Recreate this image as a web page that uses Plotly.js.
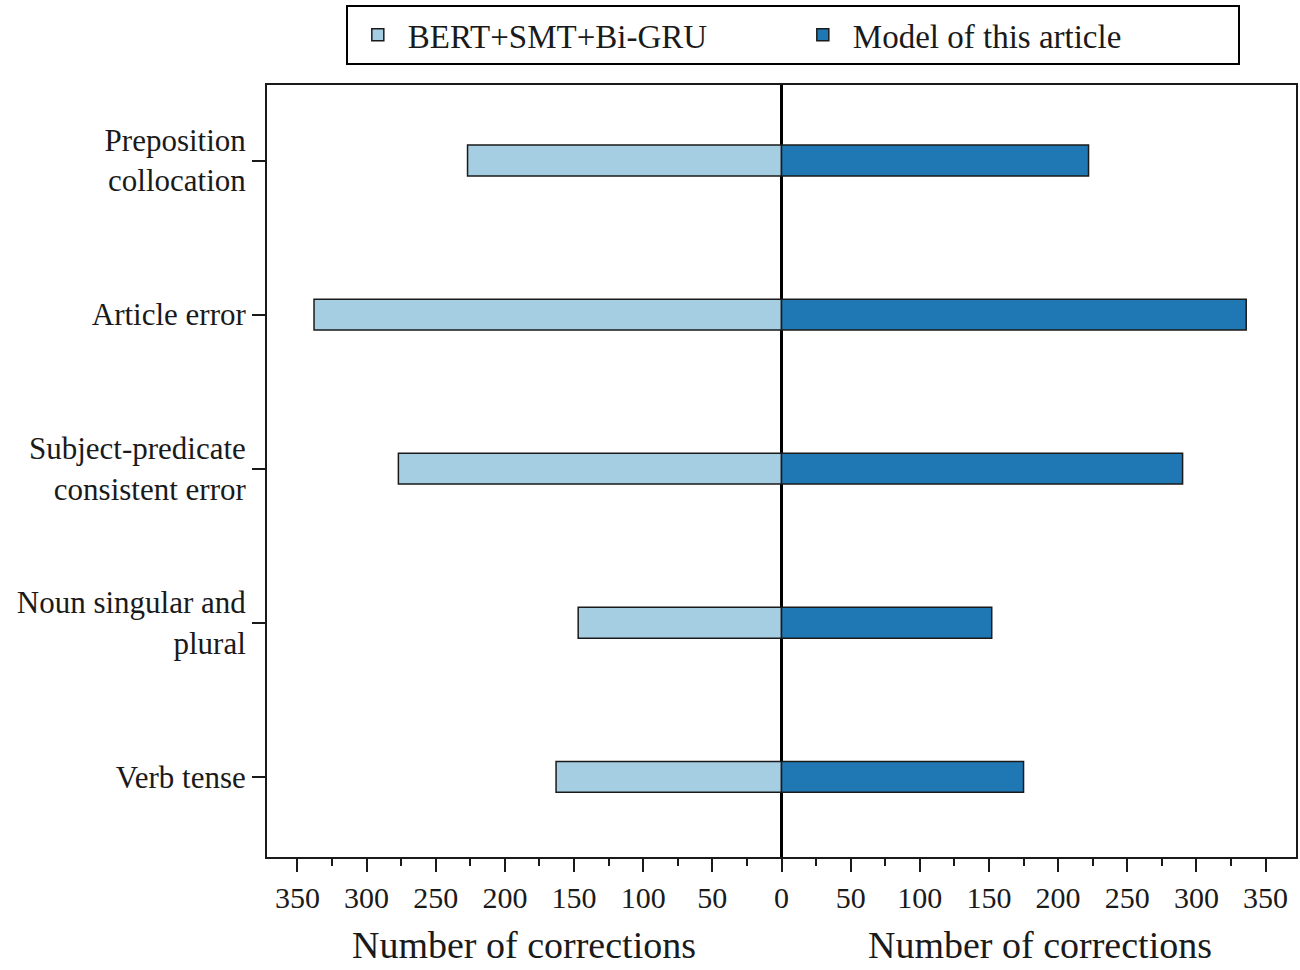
<!DOCTYPE html>
<html>
<head>
<meta charset="utf-8">
<script src="https://cdn.plot.ly/plotly-3.0.1.min.js"></script>
<style>
  html, body { margin: 0; padding: 0; background: #ffffff; }
  #chart { width: 1300px; height: 970px; }
</style>
</head>
<body>
<div id="chart"></div>
<script>
// error types, top to bottom
const categories = [
    'Preposition<br>collocation',
    'Article error',
    'Subject-predicate<br>consistent error',
    'Noun singular and<br>plural',
    'Verb tense'
];
// corrections per error type
const bertSmtBiGru = [227, 338, 277, 147, 163];
const thisModel = [222, 336, 290, 152, 175];

const tickValues = [-350, -300, -250, -200, -150, -100, -50, 0, 50, 100, 150, 200, 250, 300, 350];
const tickLabels = ['350', '300', '250', '200', '150', '100', '50', '0', '50', '100', '150', '200', '250', '300', '350'];
const minorTicks = [-325, -275, -225, -175, -125, -75, -25, 25, 75, 125, 175, 225, 275, 325];

const serif = 'Liberation Serif, Times New Roman, serif';

// left side drawn as negative values
let left = {
    x: bertSmtBiGru.map(v => -v),
    y: categories,
    name: 'BERT+SMT+Bi-GRU',
    type: 'bar',
    orientation: 'h',
    width: 0.2,
    marker: { color: '#a6cee3', line: { color: '#1a1a1a', width: 1.5 } }
};
let right = {
    x: thisModel,
    y: categories,
    name: 'Model of this article',
    type: 'bar',
    orientation: 'h',
    width: 0.2,
    marker: { color: '#1f78b4', line: { color: '#1a1a1a', width: 1.5 } }
};

Plotly.newPlot('chart', [left, right], {
    width: 1300,
    height: 970,
    barmode: 'overlay',
    paper_bgcolor: '#ffffff',
    plot_bgcolor: '#ffffff',
    margin: { l: 267, r: 4, t: 85, b: 113 },
    font: { family: serif, size: 30, color: '#1a1a1a' },
    showlegend: true,
    legend: {
        orientation: 'h',
        x: 0.511, xanchor: 'center',
        y: 1.104, yanchor: 'top',
        bordercolor: '#000000',
        borderwidth: 2,
        entrywidth: 380,
        itemwidth: 50,
        font: { family: serif, size: 33, color: '#1a1a1a' },
        traceorder: 'normal'
    },
    xaxis: {
        range: [-372, 372],
        tickmode: 'array',
        tickvals: tickValues,
        ticktext: tickLabels,
        ticks: 'outside',
        ticklen: 13,
        tickwidth: 2,
        tickcolor: '#1a1a1a',
        minor: { tickmode: 'array', tickvals: minorTicks, ticks: 'outside', ticklen: 7, tickwidth: 2, tickcolor: '#1a1a1a' },
        showgrid: false,
        zeroline: true,
        zerolinecolor: '#000000',
        zerolinewidth: 2.5,
        showline: true,
        linecolor: '#1a1a1a',
        linewidth: 2,
        mirror: true,
        tickfont: { family: serif, size: 30, color: '#1a1a1a' },
        fixedrange: true
    },
    yaxis: {
        range: [4.52, -0.49],
        ticks: 'outside',
        ticklen: 13,
        tickwidth: 2,
        tickcolor: '#1a1a1a',
        showgrid: false,
        showline: true,
        linecolor: '#1a1a1a',
        linewidth: 2,
        mirror: true,
        tickfont: { family: serif, size: 31, color: '#1a1a1a' },
        fixedrange: true
    },
    annotations: [
        { text: 'Number of corrections', xref: 'paper', yref: 'paper', x: 0.25, y: -0.114,
          xanchor: 'center', yanchor: 'middle', showarrow: false,
          font: { family: serif, size: 38, color: '#1a1a1a' } },
        { text: 'Number of corrections', xref: 'paper', yref: 'paper', x: 0.751, y: -0.114,
          xanchor: 'center', yanchor: 'middle', showarrow: false,
          font: { family: serif, size: 38, color: '#1a1a1a' } }
    ]
}, { displayModeBar: false, staticPlot: true });
</script>
</body>
</html>
